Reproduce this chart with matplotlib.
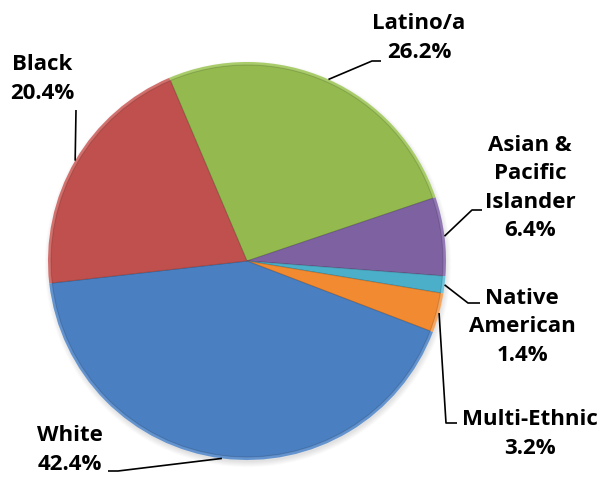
import matplotlib
matplotlib.use("Agg")
import matplotlib.pyplot as plt
import numpy as np

# pie data, clockwise from the Black/Latino boundary
groups = ['Latino/a', 'Asian &\nPacific\nIslander', 'Native\nAmerican', 'Multi-Ethnic', 'White', 'Black']
shares = [26.2, 6.4, 1.4, 3.2, 42.4, 20.4]
colors = ['#94BA4F', '#7D61A1', '#4BAFC9', '#F28A32', '#4A7FC1', '#C0504D']
edges = ['#A9CC6A', '#9279B6', '#72C6DC', '#F7A55E', '#6494D0', '#D2706D']

W, H = 602, 478
cx, cy, R = 247, H - 261, 199
start = 113

fig = plt.figure(figsize=(W / 100, H / 100), dpi=100)
ax = fig.add_axes([0, 0, 1, 1])
ax.set_xlim(0, W)
ax.set_ylim(0, H)
ax.axis('off')

# soft shadow under the pie
for k in range(6):
    ax.add_patch(plt.Circle((cx + 1, cy - 3), R + 4 - k, color='#000000', alpha=0.02, lw=0))

ax.pie(shares, colors=edges, startangle=start, counterclock=False,
       center=(cx, cy), radius=R, wedgeprops=dict(linewidth=0))
ax.pie(shares, colors=colors, startangle=start, counterclock=False,
       center=(cx, cy), radius=R - 3, wedgeprops=dict(linewidth=0.8, edgecolor='#00000025'))
ax.set_xlim(0, W)
ax.set_ylim(0, H)
ax.set_aspect('equal')

# label text position and leader elbow (pixels from top-left)
text_pos = [(419, 38), (530, 188), (522, 327), (530, 434), (70, 450), (42, 79)]
elbows = [[(372, 61), (381, 61)], [(472, 210), (482, 210)], [(468, 303), (480, 303)],
          [(446, 423), (457, 423)], [(118, 471), (108, 471)], [(76, 110)]]

cum = 0
for name, val, (tx, ty), elb in zip(groups, shares, text_pos, elbows):
    mid = np.radians(start - 3.6 * (cum + val / 2))
    cum += val
    x0 = cx + R * np.cos(mid)
    y0 = cy + R * np.sin(mid)
    xs = [x0] + [p[0] for p in elb]
    ys = [y0] + [H - p[1] for p in elb]
    ax.plot(xs, ys, color='black', lw=1.2, solid_capstyle='butt')
    ax.text(tx, H - ty, f'{name}\n{val:.1f}%', ha='center', va='center',
            fontsize=16, fontweight='bold', family='Open Sans', linespacing=1.45)

fig.savefig('out.png', dpi=100)
